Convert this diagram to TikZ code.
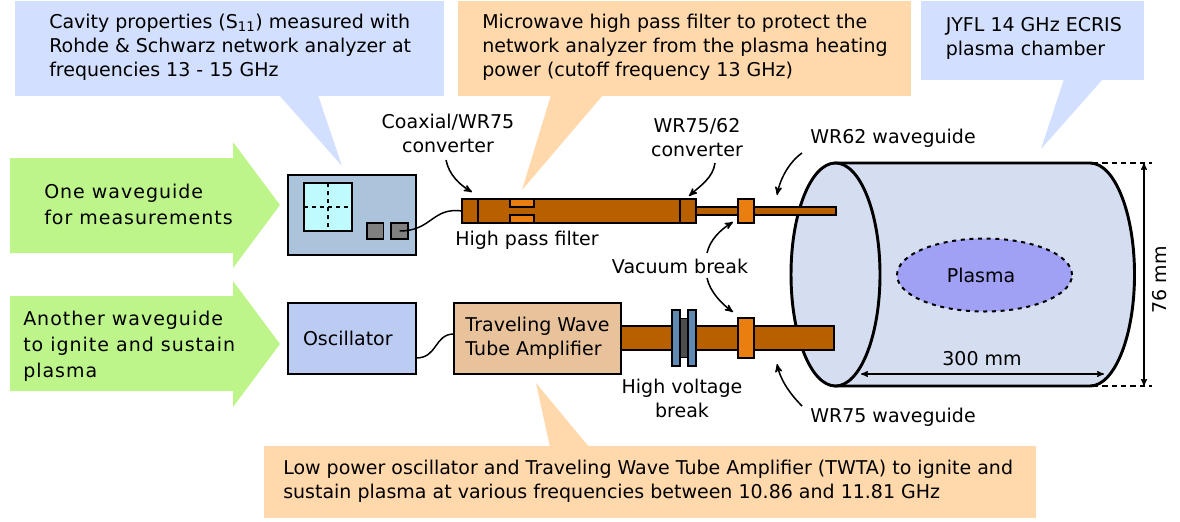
\documentclass[tikz,border=0pt]{standalone}
\usepackage{fontspec}
\setmainfont{DejaVu Sans}
\usetikzlibrary{arrows,shapes.geometric}
\definecolor{calloutblue}{HTML}{D3DFFE}
\definecolor{calloutorange}{HTML}{FFD8AC}
\definecolor{arrowgreen}{HTML}{BEF58B}
\definecolor{pipebrown}{HTML}{B85F00}
\definecolor{breakorange}{HTML}{EA7F0F}
\definecolor{chamberblue}{HTML}{D5DEF0}
\definecolor{plasmablue}{HTML}{A0A0F5}
\definecolor{analyzerblue}{HTML}{ABC4DC}
\definecolor{screencyan}{HTML}{BFFAFF}
\definecolor{oscblue}{HTML}{BBCBF2}
\definecolor{twtatan}{HTML}{E8C29A}
\definecolor{plateblue}{HTML}{5F8AB5}
\definecolor{coregray}{HTML}{4D4D4D}
\begin{document}
\begin{tikzpicture}[x=0.75pt,y=-0.75pt]
	\tikzset{wh/.style n args={2}{minimum width=#1*0.75pt,minimum height=#2*0.75pt}}
	\tikzstyle{txt}=[font=\fontsize{14.25}{18}\selectfont,align=left,inner sep=0pt]
	\tikzstyle{mid}=[font=\fontsize{14.25}{18}\selectfont,align=center,inner sep=0pt]
	\tikzstyle{greentxt}=[font=\fontsize{14.25}{19.5}\selectfont\addfontfeature{LetterSpace=5.2},align=left,inner sep=0pt,anchor=west]
	\tikzstyle{callout}=[rectangle,inner sep=0pt,outer sep=0pt]
	\tikzstyle{part}=[rectangle,draw=black,line width=1.2pt,inner sep=0pt,outer sep=0pt]
	\tikzstyle{pipe}=[part,fill=pipebrown]
	\tikzstyle{breakpart}=[part,fill=breakorange]
	\tikzstyle{note}=[-stealth',line width=1.15pt]
	\tikzstyle{dimdash}=[line width=0.8pt,dash pattern=on 4pt off 3pt]
	\useasboundingbox (0,0) rectangle (1180,521);
	% callouts
	\fill[calloutblue] (279,95) -- (342,166) -- (318,95) -- cycle;
	\fill[calloutorange] (551,95) -- (522,190) -- (603,95) -- cycle;
	\fill[calloutblue] (1064,79) -- (1041,149) -- (1103,79) -- cycle;
	\fill[calloutorange] (550,447) -- (536,383) -- (589,447) -- cycle;
	\node[callout,fill=calloutblue,wh={429}{95}] (cavity) at (229.5,48.5) {};
	\node[callout,fill=calloutorange,wh={453}{95}] (filternote) at (684.5,48.5) {};
	\node[callout,fill=calloutblue,wh={222.5}{79}] (chambernote) at (1032.7,40.5) {};
	\node[callout,fill=calloutorange,wh={772}{72}] (twtanote) at (650,482) {};
	\node[txt,anchor=west] (cavitytxt) at (49,47.5) {Cavity properties (S\textsubscript{11}) measured with\\Rohde \& Schwarz network analyzer at\\frequencies 13 - 15 GHz};
	\node[txt,anchor=west] (filtertxt) at (482,47.5) {Microwave high pass filter to protect the\\network analyzer from the plasma heating\\power (cutoff frequency 13 GHz)};
	\node[txt,anchor=west] (chambertxt) at (945.5,38.5) {JYFL 14 GHz ECRIS\\plasma chamber};
	\node[txt,anchor=west] (twtatxt) at (283,481.5) {Low power oscillator and Traveling Wave Tube Amplifier (TWTA) to ignite and\\sustain plasma at various frequencies between 10.86 and 11.81 GHz};
	% green arrows
	\fill[arrowgreen] (10,158) -- (233,158) -- (233,142) -- (280,205) -- (233,268) -- (233,253) -- (10,253) -- cycle;
	\fill[arrowgreen] (10,296) -- (233,296) -- (233,281) -- (280,344) -- (233,407) -- (233,391) -- (10,391) -- cycle;
	\node[greentxt] (one) at (44,204) {One waveguide\\for measurements};
	\node[greentxt] (another) at (23,346) {Another waveguide\\to ignite and sustain\\plasma};
	% chamber
	\draw[fill=chamberblue,line width=2.2pt] (835.5,163) -- (1090,163) arc (-90:90:44.5 and 111.5) -- (835.5,386) -- cycle;
	\node[ellipse,draw=black,fill=chamberblue,line width=2.2pt,wh={89}{223},inner sep=0pt] (front) at (835.5,274.5) {};
	\node[ellipse,draw=black,fill=plasmablue,line width=1.5pt,dash pattern=on 3pt off 3.5pt,wh={175}{73},inner sep=0pt] (plasma) at (984.5,275) {};
	\node[mid] (plasmatxt) at (981,275) {Plasma};
	% measurement line
	\node[part,fill=analyzerblue,wh={128}{80}] (analyzer) at (352,215) {};
	\node[part,fill=screencyan,wh={48}{48}] (screen) at (328,207) {};
	\draw[line width=1.1pt,dashed] (screen.north) -- (screen.south);
	\draw[line width=1.1pt,dashed] (screen.west) -- (screen.east);
	\node[part,fill=gray,wh={16.5}{16}] (port1) at (375.3,231) {};
	\node[part,fill=gray,wh={16.5}{16}] (port2) at (399.5,231) {};
	\node[pipe,wh={139.5}{8}] (wr62) at (766,211) {};
	\node[pipe,wh={234}{24}] (wr75) at (579,211) {};
	\node[breakpart,wh={24}{8}] (flange1) at (522,203) {};
	\node[breakpart,wh={24}{8}] (flange2) at (522,219) {};
	\node[breakpart,wh={16}{24}] (vacuum1) at (746,211) {};
	\coordinate (joint1top) at (478,199);
	\coordinate (joint1bot) at (478,223);
	\coordinate (joint2top) at (680,199);
	\coordinate (joint2bot) at (680,223);
	\draw[line width=1.2pt] (joint1top) -- (joint1bot);
	\draw[line width=1.2pt] (joint2top) -- (joint2bot);
	\draw[line width=1.1pt] (port2.center) .. controls (432,231) and (432,207) .. (wr75.west);
	% heating line
	\node[part,fill=oscblue,wh={128}{71},font=\fontsize{14.25}{18}\selectfont,align=left,text width=73.5pt,inner xsep=11.25pt] (oscillator) at (352,338.5) {Oscillator};
	\node[part,fill=twtatan,wh={167}{71},font=\fontsize{14.25}{18}\selectfont,align=left] (twta) at (537.5,338.5) {Traveling Wave\\Tube Amplifier};
	\node[pipe,wh={213}{24}] (wr75low) at (727.5,338) {};
	\node[part,fill=coregray,wh={8}{39}] (hvcore) at (684,338) {};
	\node[part,fill=plateblue,wh={8}{56}] (hv1) at (676,338) {};
	\node[part,fill=plateblue,wh={8}{56}] (hv2) at (692,338) {};
	\node[breakpart,wh={16}{40}] (vacuum2) at (746,338) {};
	\coordinate (oscout) at (416,358);
	\coordinate (twtain) at (454,334);
	\draw[line width=1.1pt] (oscout) .. controls (438,358) and (434,334) .. (twtain);
	% labels
	\node[mid] (coaxlabel) at (448,133) {Coaxial/WR75\\converter};
	\node[mid] (hplabel) at (527,240) {High pass filter};
	\node[mid] (wr7562label) at (697,137.5) {WR75/62\\converter};
	\node[txt,anchor=west] (wr62label) at (810,138) {WR62 waveguide};
	\node[mid] (vacuumlabel) at (680,266) {Vacuum break};
	\node[mid] (hvlabel) at (682,398.5) {High voltage\\break};
	\node[txt,anchor=west] (wr75label) at (810,417) {WR75 waveguide};
	\node[mid] (len) at (982,359) {300 mm};
	\node[mid,rotate=90] (dia) at (1160,280) {76 mm};
	% arrows
	\coordinate (a1) at (446,160);
	\coordinate (a1end) at (472,192);
	\coordinate (a2) at (715,163);
	\coordinate (a2end) at (689,196);
	\coordinate (a3) at (802,153);
	\coordinate (a3end) at (777,195);
	\coordinate (a4) at (707,253);
	\coordinate (a4end) at (733,222);
	\coordinate (a5) at (707,278);
	\coordinate (a5end) at (733,312);
	\coordinate (a6) at (802,406);
	\coordinate (a6end) at (777,364);
	\draw[note] (a1) .. controls (449,175) and (460,185) .. (a1end);
	\draw[note] (a2) .. controls (713,178) and (700,186) .. (a2end);
	\draw[note] (a3) .. controls (788,163) and (780,180) .. (a3end);
	\draw[note] (a4) .. controls (710,240) and (720,230) .. (a4end);
	\draw[note] (a5) .. controls (710,292) and (722,304) .. (a5end);
	\draw[note] (a6) .. controls (788,392) and (780,378) .. (a6end);
	% dimensions
	\coordinate (dimtop) at (1144,163);
	\coordinate (dimbot) at (1144,386);
	\coordinate (lenl) at (861,374);
	\coordinate (lenr) at (1104,374);
	\coordinate (rimtop) at (1093,163);
	\coordinate (rimbot) at (1093,386);
	\coordinate (edgetop) at (1152,163);
	\coordinate (edgebot) at (1152,386);
	\draw[dimdash] (rimtop) -- (edgetop);
	\draw[dimdash] (rimbot) -- (edgebot);
	\draw[stealth'-stealth',line width=0.9pt] (dimtop) -- (dimbot);
	\draw[stealth'-stealth',line width=0.9pt] (lenl) -- (lenr);
\end{tikzpicture}
\end{document}
